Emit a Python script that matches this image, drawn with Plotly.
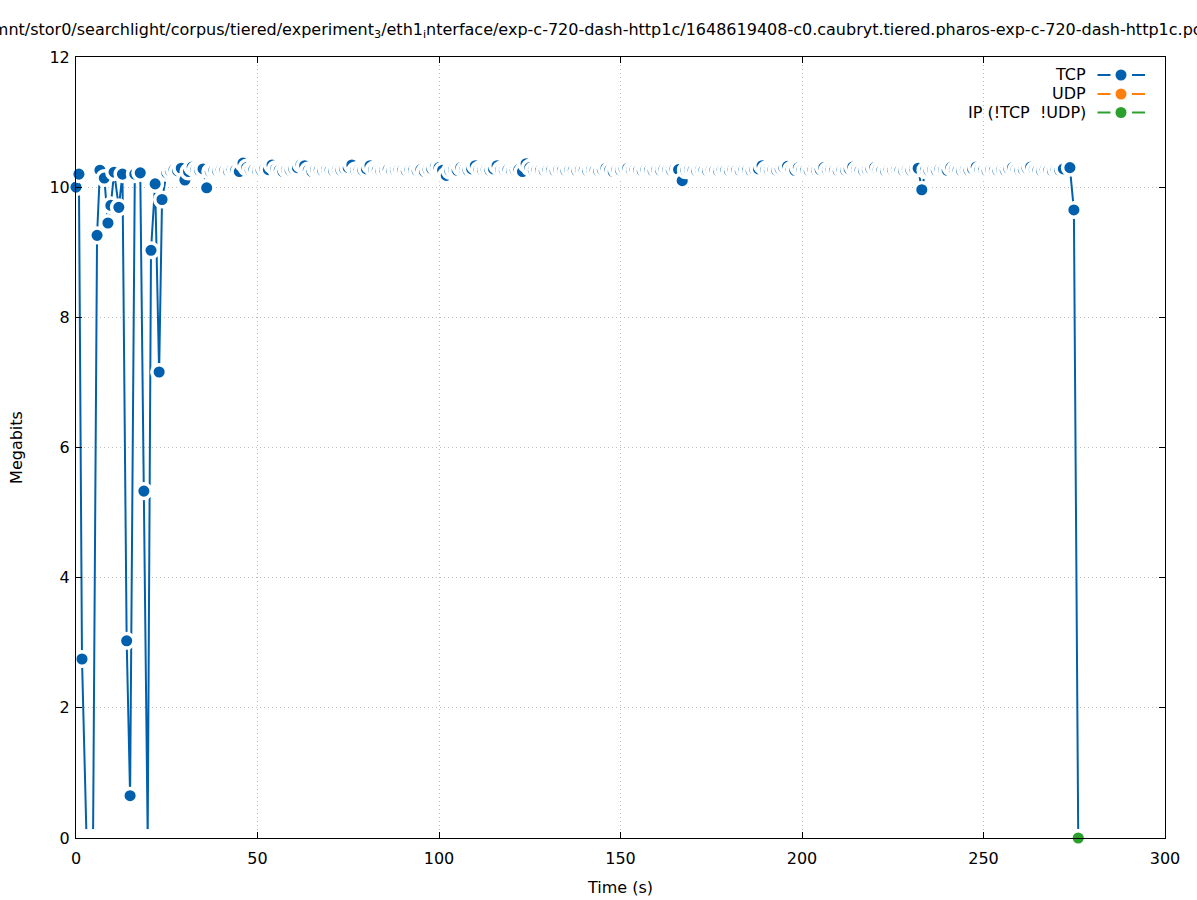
import plotly.graph_objects as go

# ---------------- data ----------------
tcp_t_early = [0.0, 0.8, 1.65, 2.9, 4.7, 5.8, 6.6, 7.8, 8.8, 9.6, 10.5, 11.8,
               12.8, 13.96, 14.9, 16.2, 17.7, 18.7, 19.75, 20.66, 21.8, 22.9, 23.7]
tcp_v_early = [10.0, 10.2, 2.75, 0.0, 0.0, 9.26, 10.26, 10.14, 9.45, 9.72, 10.23, 9.69,
               10.2, 3.03, 0.65, 10.2, 10.22, 5.33, 0.0, 9.03, 10.05, 7.16, 9.81]

tcp_t_steady = list(range(25, 273))
tcp_v_steady = [
    10.22, 10.25, 10.27, 10.25, 10.29, 10.11, 10.24, 10.31, 10.27, 10.26,  # 25-34
    10.28, 9.99, 10.24, 10.26, 10.25, 10.27, 10.26, 10.25, 10.27, 10.26,   # 35-44
    10.24, 10.37, 10.30, 10.26, 10.27, 10.25, 10.26, 10.28, 10.27, 10.34,  # 45-54
    10.28, 10.26, 10.24, 10.27, 10.26, 10.28, 10.30, 10.35, 10.33, 10.26,  # 55-64
    10.24, 10.27, 10.26, 10.25, 10.27, 10.26, 10.25, 10.27, 10.26, 10.28,  # 65-74
    10.30, 10.34, 10.26, 10.27, 10.26, 10.28, 10.33, 10.27, 10.26, 10.25,  # 75-84
    10.26, 10.27, 10.25, 10.26, 10.27, 10.26, 10.25, 10.27, 10.26, 10.25,  # 85-94
    10.27, 10.24, 10.27, 10.28, 10.31, 10.30, 10.26, 10.18, 10.25, 10.27,  # 95-104
    10.26, 10.30, 10.27, 10.26, 10.28, 10.33, 10.27, 10.26, 10.27, 10.26,  # 105-114
    10.28, 10.33, 10.27, 10.26, 10.27, 10.25, 10.26, 10.27, 10.24, 10.36,  # 115-124
    10.30, 10.26, 10.27, 10.26, 10.25, 10.27, 10.26, 10.25, 10.27, 10.26,  # 125-134
    10.25, 10.27, 10.26, 10.25, 10.27, 10.26, 10.25, 10.27, 10.26, 10.25,  # 135-144
    10.27, 10.29, 10.26, 10.24, 10.27, 10.26, 10.28, 10.29, 10.26, 10.27,  # 145-154
    10.26, 10.25, 10.27, 10.26, 10.25, 10.27, 10.26, 10.28, 10.27, 10.26,  # 155-164
    10.28, 10.27, 10.10, 10.26, 10.27, 10.26, 10.25, 10.27, 10.26, 10.25,  # 165-174
    10.27, 10.26, 10.25, 10.27, 10.26, 10.25, 10.27, 10.26, 10.25, 10.27,  # 175-184
    10.26, 10.25, 10.27, 10.28, 10.33, 10.27, 10.26, 10.27, 10.26, 10.28,  # 185-194
    10.30, 10.32, 10.27, 10.26, 10.30, 10.27, 10.26, 10.25, 10.27, 10.26,  # 195-204
    10.27, 10.30, 10.26, 10.27, 10.26, 10.25, 10.27, 10.26, 10.28, 10.31,  # 205-214
    10.27, 10.26, 10.25, 10.27, 10.28, 10.30, 10.27, 10.26, 10.25, 10.27,  # 215-224
    10.26, 10.27, 10.26, 10.25, 10.27, 10.26, 10.28, 10.29, 9.96, 10.26,   # 225-234
    10.25, 10.27, 10.26, 10.28, 10.27, 10.26, 10.30, 10.27, 10.26, 10.25,  # 235-244
    10.27, 10.26, 10.28, 10.31, 10.27, 10.26, 10.25, 10.27, 10.26, 10.25,  # 245-254
    10.27, 10.26, 10.28, 10.30, 10.27, 10.26, 10.27, 10.29, 10.31, 10.27,  # 255-264
    10.26, 10.25, 10.27, 10.26, 10.25, 10.27, 10.26, 10.28,                # 265-272
]
tcp_t_tail = [273.8, 274.9, 276.1]
tcp_v_tail = [10.30, 9.65, 0.0]

udp_t = []
udp_v = []

ip_t = [276.1]
ip_v = [0.0]

x_ticks = [0, 50, 100, 150, 200, 250, 300]
y_ticks = [0, 2, 4, 6, 8, 10, 12]

series_names = ["TCP", "UDP", "IP (!TCP \u00a0!UDP)"]
title_text = ("/mnt/stor0/searchlight/corpus/tiered/experiment<sub>3</sub>/eth1<sub>i</sub>nterface/"
              "exp-c-720-dash-http1c/1648619408-c0.caubryt.tiered.pharos-exp-c-720-dash-http1c.pcap")

# ---------------- styling ----------------
BLUE = "#0060ad"
ORANGE = "#ff7f0e"
GREEN = "#2ca02c"
colors = [BLUE, ORANGE, GREEN]
FONT = "DejaVu Sans"

W, H = 1197, 900
ML, MR, MT, MB = 76, 32, 57, 62
MSIZE, MHALO = 14.6, 3.5

tcp_t = tcp_t_early + tcp_t_steady + tcp_t_tail
tcp_v = tcp_v_early + tcp_v_steady + tcp_v_tail
assert len(tcp_t) == len(tcp_v)

tcp_marker_colors = [BLUE if v > 0 else "white" for v in tcp_v]

fig = go.Figure()
fig.add_trace(go.Scatter(
    x=tcp_t, y=tcp_v, mode="lines+markers", name=series_names[0],
    line=dict(color=BLUE, width=2),
    marker=dict(size=MSIZE, color=tcp_marker_colors, line=dict(color="white", width=MHALO)),
    cliponaxis=False, showlegend=False))
fig.add_trace(go.Scatter(
    x=udp_t, y=udp_v, mode="lines+markers", name=series_names[1],
    line=dict(color=ORANGE, width=2),
    marker=dict(size=MSIZE, color=ORANGE, line=dict(color="white", width=MHALO)),
    cliponaxis=False, showlegend=False))
fig.add_trace(go.Scatter(
    x=ip_t, y=ip_v, mode="lines+markers", name=series_names[2],
    line=dict(color=GREEN, width=2),
    marker=dict(size=MSIZE, color=GREEN, line=dict(color="white", width=MHALO)),
    cliponaxis=False, showlegend=False))

# ---------------- gnuplot-like legend (text left, sample right) ----------------
pw = W - ML - MR
ph = H - MT - MB
def px2x(px):
    return (px - ML) / pw
def py2y(py):
    return (H - MB - py) / ph

shapes = []
annotations = []
row_y = [75, 94, 112.5]
for name, col, ry in zip(series_names, colors, row_y):
    yy = py2y(ry)
    annotations.append(dict(x=px2x(1088), y=yy, xref="paper", yref="paper",
                            text=name, showarrow=False, xanchor="right", yanchor="middle",
                            font=dict(family=FONT, size=16, color="black")))
    for a, b in [(1097.5, 1110.5), (1132, 1145)]:
        shapes.append(dict(type="line", xref="paper", yref="paper",
                           x0=px2x(a), x1=px2x(b), y0=yy, y1=yy,
                           line=dict(color=col, width=2)))
    shapes.append(dict(type="circle", xref="paper", yref="paper",
                       xsizemode="pixel", ysizemode="pixel",
                       xanchor=px2x(1121), yanchor=yy,
                       x0=-5.5, x1=5.5, y0=-5.5, y1=5.5,
                       fillcolor=col, line=dict(width=0)))

axis_common = dict(
    showline=True, linecolor="black", linewidth=1, mirror="ticks",
    ticks="inside", ticklen=6, tickcolor="black", tickwidth=1,
    showgrid=True, gridcolor="#bdbdbd", gridwidth=1, griddash="1px,3px",
    zeroline=False,
    tickfont=dict(family=FONT, size=16, color="black"),
)

fig.update_layout(
    width=W, height=H,
    margin=dict(l=ML, r=MR, t=MT, b=MB, autoexpand=False),
    paper_bgcolor="white", plot_bgcolor="white",
    title=dict(text=title_text, x=0.505, xref="container", xanchor="center",
               y=1 - 29 / H, yref="container", yanchor="middle",
               font=dict(family=FONT, size=16, color="black")),
    xaxis=dict(range=[0, 300], tickvals=x_ticks, ticklabelstandoff=6,
               title=dict(text="Time (s)", font=dict(family=FONT, size=16, color="black"), standoff=14),
               **axis_common),
    yaxis=dict(range=[0, 12], tickvals=y_ticks, ticklabelstandoff=2,
               title=dict(text="Megabits", font=dict(family=FONT, size=16, color="black"), standoff=22),
               **axis_common),
    shapes=shapes, annotations=annotations,
    showlegend=False,
)

fig.write_html("out.html", config={"displayModeBar": False},
               post_script="document.body.style.margin='0';document.body.style.overflow='hidden';")
